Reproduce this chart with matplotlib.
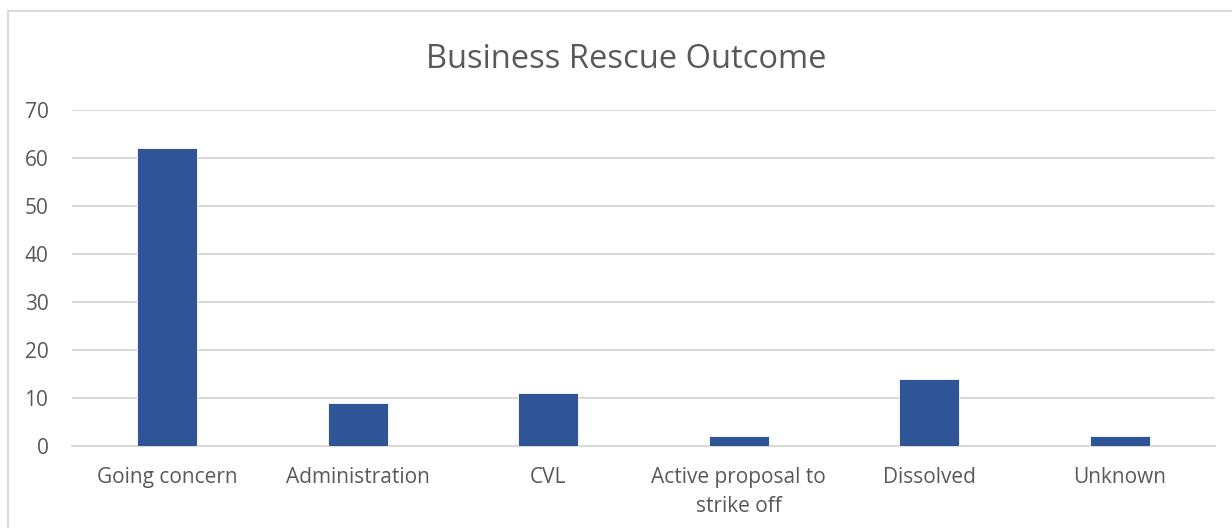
import matplotlib.pyplot as plt
from matplotlib.patches import Rectangle
import numpy as np

categories = ["Going concern", "Administration", "CVL",
              "Active proposal to\nstrike off", "Dissolved", "Unknown"]
counts = [62, 9, 11, 2, 14, 2]
yticks = [0, 10, 20, 30, 40, 50, 60, 70]

bar_color = "#2F5597"
text_color = "#595959"
grid_color = "#D9D9D9"

plt.rcParams["font.family"] = ["Open Sans", "DejaVu Sans"]

fig = plt.figure(figsize=(12.32, 5.28), dpi=100)
W, H = 1232, 528

# chart frame, only the left and top edges fall inside the image
fig.patches.append(Rectangle((8 / W, -0.1), 1.2, 1.1 - 11 / H, transform=fig.transFigure,
                             fill=False, edgecolor=grid_color, linewidth=1.5))

ax = fig.add_axes([72 / W, 1 - 446 / H, (1215 - 72) / W, (446 - 110) / H])
x = np.arange(len(categories))
ax.bar(x, counts, width=0.315, color=bar_color, edgecolor="white", linewidth=0.6, zorder=3)

ax.set_xlim(-0.5, len(categories) - 0.5)
ax.set_ylim(0, 70)
ax.set_yticks(yticks)
ax.set_xticks(x)
ax.set_xticklabels(categories, fontsize=15, color=text_color, linespacing=1.5)
ax.tick_params(axis="y", labelsize=15, labelcolor=text_color, length=0, pad=17)
ax.tick_params(axis="x", length=0, pad=15)
ax.grid(axis="y", color=grid_color, linewidth=1.5, zorder=0)
for s in ["top", "right", "left"]:
    ax.spines[s].set_visible(False)
ax.spines["bottom"].set_color(grid_color)
ax.spines["bottom"].set_linewidth(1.5)

fig.text(626 / W, 1 - 60 / H, "Business Rescue Outcome", ha="center", va="center",
         fontsize=23.5, color=text_color)

fig.savefig("out.png", dpi=100)
